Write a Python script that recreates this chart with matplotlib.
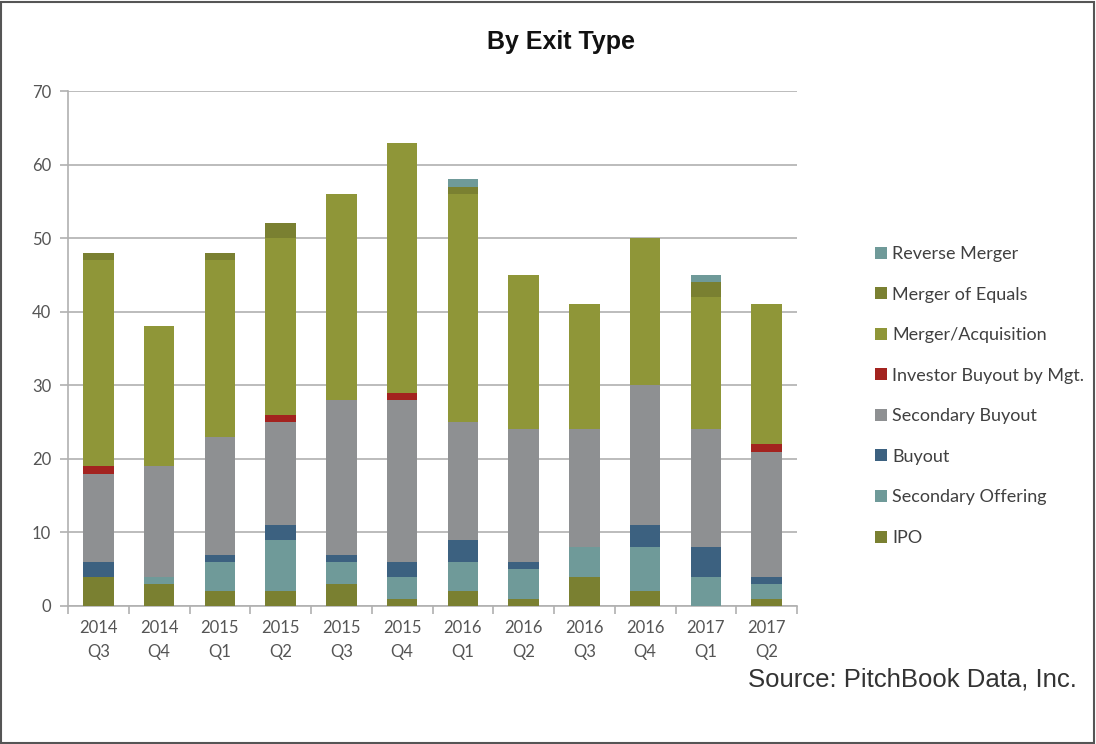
import matplotlib
matplotlib.use("Agg")
import matplotlib.pyplot as plt
from matplotlib.patches import Rectangle, Patch
import numpy as np

categories = ["2014\nQ3", "2014\nQ4", "2015\nQ1", "2015\nQ2", "2015\nQ3", "2015\nQ4",
              "2016\nQ1", "2016\nQ2", "2016\nQ3", "2016\nQ4", "2017\nQ1", "2017\nQ2"]

ipo                = [4, 3, 2, 2, 3, 1, 2, 1, 4, 2, 0, 1]
secondary_offering = [0, 1, 4, 7, 3, 3, 4, 4, 4, 6, 4, 2]
buyout             = [2, 0, 1, 2, 1, 2, 3, 1, 0, 3, 4, 1]
secondary_buyout   = [12, 15, 16, 14, 21, 22, 16, 18, 16, 19, 16, 17]
investor_buyout    = [1, 0, 0, 1, 0, 1, 0, 0, 0, 0, 0, 1]
merger_acquisition = [28, 19, 24, 24, 28, 34, 31, 21, 17, 20, 18, 19]
merger_of_equals   = [1, 0, 1, 2, 0, 0, 1, 0, 0, 0, 2, 0]
reverse_merger     = [0, 0, 0, 0, 0, 0, 1, 0, 0, 0, 1, 0]

series = [
    ("IPO", ipo, "#7a8031"),
    ("Secondary Offering", secondary_offering, "#6f9a99"),
    ("Buyout", buyout, "#3c6180"),
    ("Secondary Buyout", secondary_buyout, "#8e9092"),
    ("Investor Buyout by Mgt.", investor_buyout, "#a3231f"),
    ("Merger/Acquisition", merger_acquisition, "#8f9638"),
    ("Merger of Equals", merger_of_equals, "#7a8031"),
    ("Reverse Merger", reverse_merger, "#6f9a99"),
]

W, H = 1096, 744
fig = plt.figure(figsize=(W / 100, H / 100), dpi=100)
ax = fig.add_axes([68 / W, 1 - 606 / H, (797 - 68) / W, (606 - 91) / H])

x = np.arange(len(categories))
bottom = np.zeros(len(categories))
handles = []
for name, vals, col in series:
    v = np.array(vals, dtype=float)
    ax.bar(x, v, bottom=bottom, width=0.5, color=col, edgecolor="none", zorder=3)
    bottom += v
    handles.append(Patch(facecolor=col, edgecolor="none", label=name))

ax.set_xlim(-0.5, len(categories) - 0.5)
ax.set_ylim(0, 70)
ax.set_yticks(range(0, 71, 10))
ax.yaxis.grid(True, color="#b0b0b0", linewidth=1.2, zorder=0)
ax.set_axisbelow(True)

for s in ["top", "right"]:
    ax.spines[s].set_visible(False)
for s in ["left", "bottom"]:
    ax.spines[s].set_color("#b0b0b0")
    ax.spines[s].set_linewidth(1.2)

ax.set_xticks(x)
ax.set_xticklabels(categories, linespacing=1.6)
ax.set_xticks(np.arange(-0.5, len(categories), 1.0), minor=True)
ax.tick_params(axis="x", which="major", length=0, pad=10, labelsize=12, labelcolor="#555555")
ax.tick_params(axis="x", which="minor", length=6, color="#b0b0b0", width=1.2)
ax.tick_params(axis="y", length=6, color="#b0b0b0", width=1.2, labelsize=12,
               labelcolor="#555555", pad=6)
for lab in ax.get_xticklabels() + ax.get_yticklabels():
    lab.set_family(["Lato", "DejaVu Sans"])

fig.text(561 / W, 1 - 42 / H, "By Exit Type", ha="center", va="center",
         fontsize=18, fontweight="bold", family=["Liberation Sans", "DejaVu Sans"],
         color="#111111")
fig.text(1077 / W, 1 - 679 / H, "Source: PitchBook Data, Inc.", ha="right", va="center",
         fontsize=18.5, family=["Liberation Sans", "DejaVu Sans"], color="#333333")

leg = fig.legend(handles[::-1], [h.get_label() for h in handles[::-1]],
                 loc="upper left", bbox_to_anchor=(866 / W, 1 - 237 / H),
                 frameon=False, fontsize=13, handlelength=0.65, handleheight=0.65,
                 handletextpad=0.3, labelspacing=1.36, borderpad=0)
for t in leg.get_texts():
    t.set_color("#404040")
    t.set_family(["Lato", "DejaVu Sans"])

fig.patches.append(Rectangle((1 / W, 1 / H), 1 - 3 / W, 1 - 3 / H, transform=fig.transFigure,
                             fill=False, edgecolor="#555555", linewidth=1.5))

fig.savefig("out.png", dpi=100)
